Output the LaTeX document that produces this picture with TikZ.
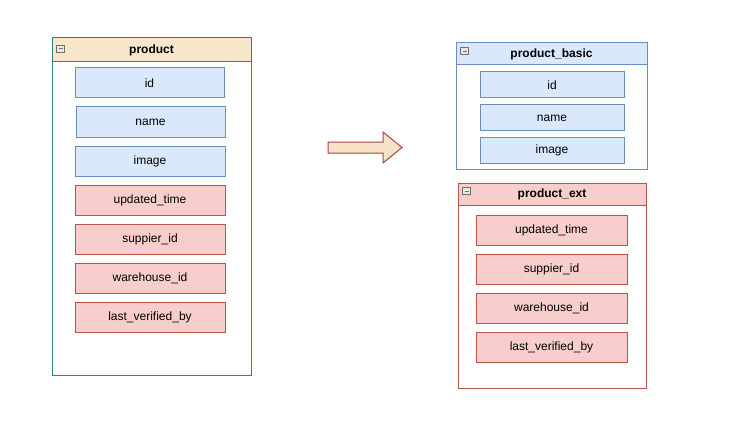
\documentclass[tikz,border=0pt]{standalone}
\usepackage{fontspec}
\setmainfont{Liberation Sans}
\definecolor{bluefill}{HTML}{DAE8FC}
\definecolor{blueline}{HTML}{6C8EBF}
\definecolor{redfill}{HTML}{F8CECC}
\definecolor{redline}{HTML}{B85450}
\definecolor{tealline}{HTML}{2E8583}
\definecolor{tanfill}{HTML}{F7E6CA}
\definecolor{arrowfill}{HTML}{F7E3CA}
\definecolor{arrowline}{HTML}{A8473A}
\definecolor{icongray}{HTML}{707070}
\definecolor{iconfill}{HTML}{E8E8E8}
\begin{document}
\begin{tikzpicture}[x=1pt,y=-1pt,
  every node/.style={inner sep=0pt, outer sep=0pt},
  fieldtext/.style={font=\fontsize{12}{14}\selectfont},
  bluefield/.style={draw=blueline, fill=bluefill, line width=1pt, fieldtext},
  redfield/.style={draw=redline, fill=redfill, line width=1pt, fieldtext},
  container/.style={draw, fill=white, line width=1pt},
  header/.style={draw, line width=1pt, font=\fontsize{12}{14}\selectfont\bfseries},
  iconbox/.style={draw=icongray, fill=iconfill, line width=0.8pt, minimum width=8pt, minimum height=7pt}
]
\useasboundingbox (0,0) rectangle (733,425);

% product
\node[container, draw=tealline, minimum width=199pt, minimum height=337pt] (prod) at (151.5,206.5) {};
\node[header, draw=tealline, fill=tanfill, minimum width=199pt, minimum height=24pt] (prodh) at (151.5,50) {product};
\node[iconbox] (prodi) at (60.5,48.5) {};
\draw[icongray, line width=0.8pt] (prodi.west) ++(2,0) -- ++(4,0);
\node[bluefield, minimum width=149pt, minimum height=30pt] (p1) at (149.5,83) {id};
\node[bluefield, minimum width=149pt, minimum height=30pt] (p2) at (150.5,122) {name};
\node[bluefield, minimum width=150pt, minimum height=30pt] (p3) at (150,161) {image};
\node[redfield, minimum width=150pt, minimum height=30pt] (p4) at (150,200) {updated\_time};
\node[redfield, minimum width=150pt, minimum height=30pt] (p5) at (150,239) {suppier\_id};
\node[redfield, minimum width=150pt, minimum height=30pt] (p6) at (150,278) {warehouse\_id};
\node[redfield, minimum width=150pt, minimum height=30pt] (p7) at (150,317) {last\_verified\_by};

% arrow
\draw[draw=arrowline, fill=arrowfill, line width=1pt, line join=miter]
  (328,142) -- (383,142) -- (383,132) -- (402,147.5) -- (383,163) -- (383,153) -- (328,153) -- cycle;

% product_basic
\node[container, draw=blueline, minimum width=191pt, minimum height=126pt] (basic) at (551.5,106) {};
\node[header, draw=blueline, fill=bluefill, minimum width=191pt, minimum height=22pt] (basich) at (551.5,54) {product\_basic};
\node[iconbox] (basici) at (464.5,51) {};
\draw[icongray, line width=0.8pt] (basici.west) ++(2,0) -- ++(4,0);
\node[bluefield, minimum width=144pt, minimum height=26pt] (b1) at (552,85) {id};
\node[bluefield, minimum width=144pt, minimum height=26pt] (b2) at (552,118) {name};
\node[bluefield, minimum width=144pt, minimum height=26pt] (b3) at (552,150) {image};

% product_ext
\node[container, draw=redline, minimum width=188pt, minimum height=205pt] (ext) at (552,285.5) {};
\node[header, draw=redline, fill=redfill, minimum width=188pt, minimum height=22pt] (exth) at (552,194) {product\_ext};
\node[iconbox] (exti) at (466.5,191) {};
\draw[icongray, line width=0.8pt] (exti.west) ++(2,0) -- ++(4,0);
\node[redfield, minimum width=151pt, minimum height=30pt] (e1) at (551.5,230) {updated\_time};
\node[redfield, minimum width=151pt, minimum height=30pt] (e2) at (551.5,269) {suppier\_id};
\node[redfield, minimum width=151pt, minimum height=30pt] (e3) at (551.5,308) {warehouse\_id};
\node[redfield, minimum width=151pt, minimum height=30pt] (e4) at (551.5,347.5) {last\_verified\_by};
\end{tikzpicture}
\end{document}
